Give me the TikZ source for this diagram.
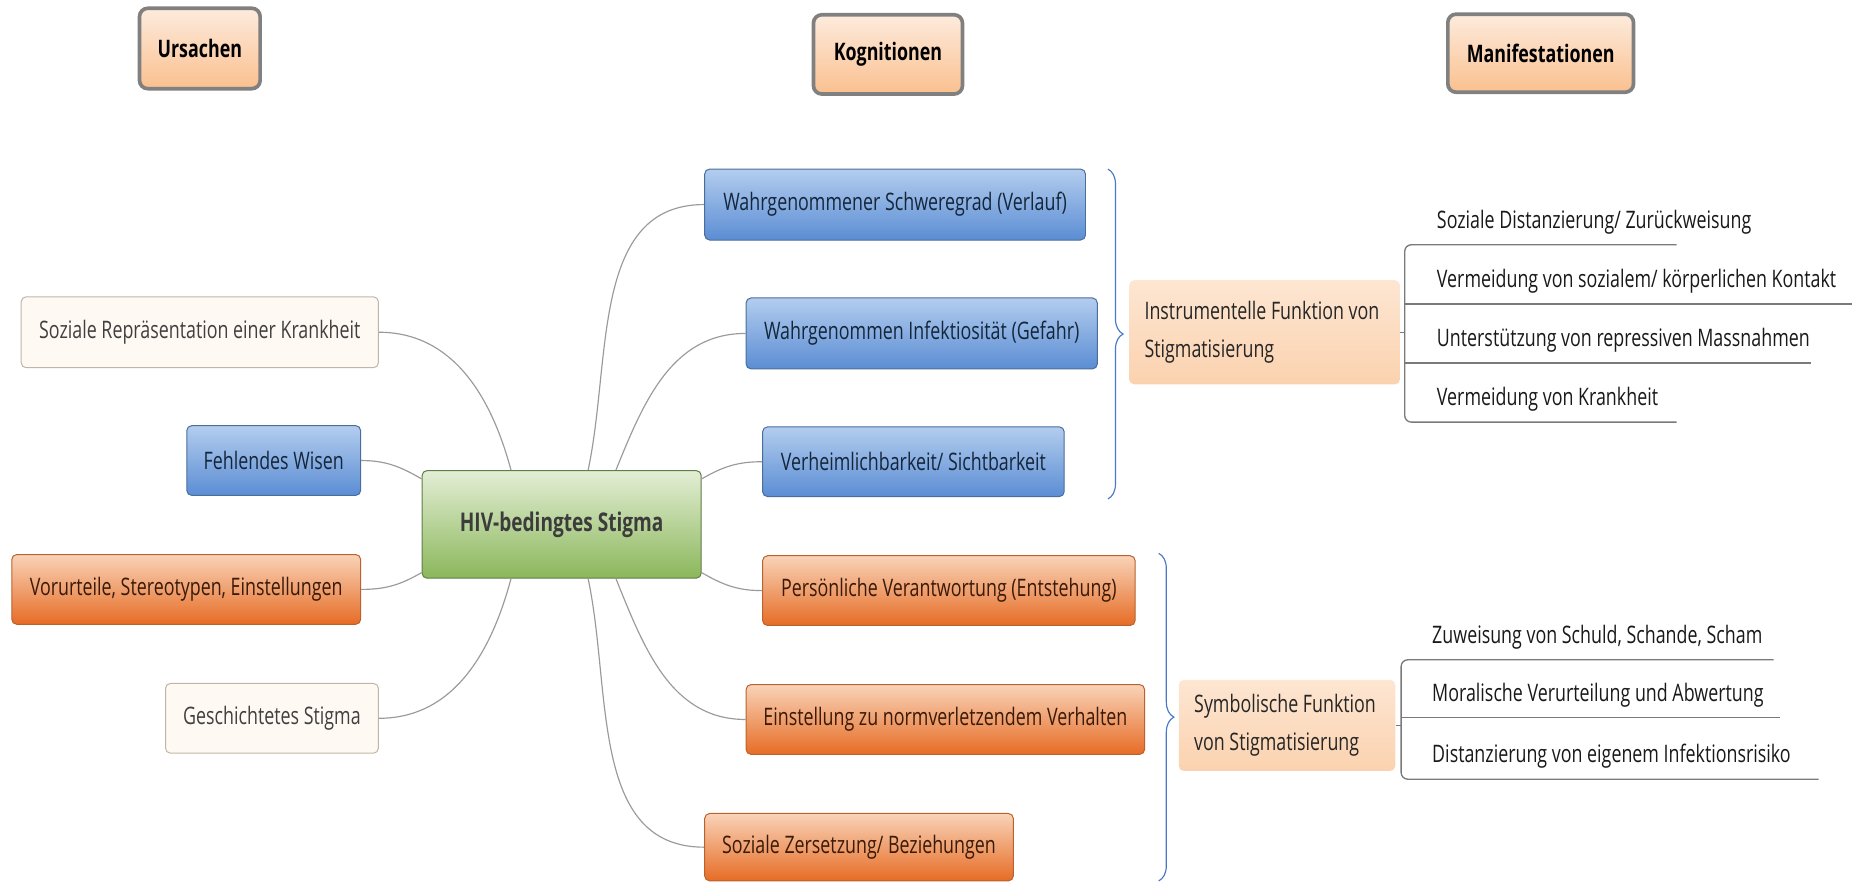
\documentclass[tikz,border=0pt]{standalone}
\usepackage{fontspec}
\setmainfont{Open Sans}[FakeStretch=0.74]
\usetikzlibrary{positioning,decorations.pathreplacing}

\definecolor{headline}{HTML}{808080}
\definecolor{headtop}{HTML}{FDEBDD}
\definecolor{headbot}{HTML}{FAC08F}
\definecolor{bluetop}{HTML}{B3CDEE}
\definecolor{bluebot}{HTML}{5B8DD4}
\definecolor{blueline}{HTML}{4A6E9C}
\definecolor{bluetext}{HTML}{15263B}
\definecolor{orangetop}{HTML}{F9D3B8}
\definecolor{orangebot}{HTML}{E66C25}
\definecolor{orangeline}{HTML}{B9622E}
\definecolor{orangetext}{HTML}{3A1A08}
\definecolor{greentop}{HTML}{E3EED5}
\definecolor{greenbot}{HTML}{8BB75B}
\definecolor{greenline}{HTML}{5F7D45}
\definecolor{greentext}{HTML}{3C3C3C}
\definecolor{creamfill}{HTML}{FFF9F3}
\definecolor{creamline}{HTML}{C2B4A8}
\definecolor{creamtext}{HTML}{404040}
\definecolor{functop}{HTML}{FDE6D2}
\definecolor{funcbot}{HTML}{FBD2AF}
\definecolor{linkgray}{HTML}{9A9A9A}
\definecolor{rulegray}{HTML}{7A7A7A}
\definecolor{braceblue}{HTML}{4A78C8}

\begin{document}
\begin{tikzpicture}[
    x=0.025cm, y=-0.025cm,
    font=\fontsize{14.5}{17}\selectfont,
    box/.style={draw, rounded corners=3pt, align=center, inner sep=0pt, line width=0.6pt},
    head/.style={box, draw=headline, line width=2.2pt, rounded corners=5pt, top color=headtop, bottom color=headbot, font=\fontsize{14.5}{17}\selectfont\bfseries},
    bluebox/.style={box, draw=blueline, top color=bluetop, bottom color=bluebot, text=bluetext},
    orangebox/.style={box, draw=orangeline, top color=orangetop, bottom color=orangebot, text=orangetext},
    creambox/.style={box, draw=creamline, fill=creamfill, text=creamtext},
    core/.style={box, draw=greenline, top color=greentop, bottom color=greenbot, text=greentext, font=\fontsize{15.5}{18}\selectfont\bfseries},
    func/.style={rounded corners=3pt, top color=functop, bottom color=funcbot, align=flush left, inner xsep=0.325cm, inner ysep=0pt, text=black!85, font=\fontsize{14.5}{23}\selectfont},
    item/.style={anchor=south west, inner ysep=0.25cm, text depth=0.25em, text=black!90},
    link/.style={draw=linkgray, line width=0.7pt},
    rule/.style={draw=rulegray, line width=0.8pt, rounded corners=4pt},
    curly/.style={draw=braceblue, line width=0.7pt, decorate, decoration={brace, amplitude=0.32cm}}
]
\useasboundingbox (0,0) rectangle (1568,747);

\node[head, minimum width=2.55cm, minimum height=1.7cm] (ursachen) at (169,41) {Ursachen};
\node[head, minimum width=3.15cm, minimum height=1.675cm] (kogn) at (751,46) {Kognitionen};
\node[head, minimum width=3.925cm, minimum height=1.65cm] (manif) at (1303,45) {Manifestationen};

\node[core, minimum width=5.9cm, minimum height=2.275cm] (stigma) at (475,443.5) {HIV-bedingtes Stigma};

\node[creambox, minimum width=7.55cm, minimum height=1.5cm] (sozrep) at (169,281) {Soziale Repräsentation einer Krankheit};
\node[bluebox, minimum width=3.675cm, minimum height=1.475cm] (wissen) at (231.5,389.5) {Fehlendes Wisen};
\node[orangebox, minimum width=7.375cm, minimum height=1.475cm] (vorurt) at (157.5,498.5) {Vorurteile, Stereotypen, Einstellungen};
\node[creambox, minimum width=4.5cm, minimum height=1.475cm] (geschst) at (230,607.5) {Geschichtetes Stigma};

\node[bluebox, minimum width=8.05cm, minimum height=1.5cm] (schwere) at (757,173) {Wahrgenommener Schweregrad (Verlauf)};
\node[bluebox, minimum width=7.425cm, minimum height=1.5cm] (infekt) at (779.5,282) {Wahrgenommen Infektiosität (Gefahr)};
\node[bluebox, minimum width=6.375cm, minimum height=1.475cm] (verheim) at (772.5,390.5) {Verheimlichbarkeit/ Sichtbarkeit};
\node[orangebox, minimum width=7.875cm, minimum height=1.475cm] (verantw) at (802.5,499.5) {Persönliche Verantwortung (Entstehung)};
\node[orangebox, minimum width=8.425cm, minimum height=1.475cm] (normverl) at (799.5,608.5) {Einstellung zu normverletzendem Verhalten};
\node[orangebox, minimum width=6.525cm, minimum height=1.425cm] (zersetz) at (726.5,716.5) {Soziale Zersetzung/ Beziehungen};

\node[func, text width=5.075cm, minimum height=2.2cm] (instr) at (1069.5,281) {Instrumentelle Funktion von\\Stigmatisierung};
\node[func, text width=3.925cm, minimum height=1.925cm] (symb) at (1088.5,613.5) {Symbolische Funktion\\von Stigmatisierung};

\node[item, inner xsep=0.675cm] (inst1) at (1188,207) {Soziale Distanzierung/ Zurückweisung};
\node[item, inner xsep=0.675cm] (inst2) at (1188,257) {Vermeidung von sozialem/ körperlichen Kontakt};
\node[item, inner xsep=0.675cm] (inst3) at (1188,307) {Unterstützung von repressiven Massnahmen};
\node[item, inner xsep=0.675cm] (inst4) at (1188,357) {Vermeidung von Krankheit};

\node[item, inner xsep=0.65cm] (symb1) at (1185,558) {Zuweisung von Schuld, Schande, Scham};
\node[item, inner xsep=0.65cm] (symb2) at (1185,607) {Moralische Verurteilung und Abwertung};
\node[item, inner xsep=0.65cm] (symb3) at (1185,659) {Distanzierung von eigenem Infektionsrisiko};

\draw[link] (sozrep.east) to[out=0,in=105] (stigma.133);
\draw[link] (wissen.east) to[out=0,in=150] (stigma.162);
\draw[link] (vorurt.east) to[out=0,in=210] (stigma.199);
\draw[link] (geschst.east) to[out=0,in=255] (stigma.227);

\draw[link] (stigma.64) to[out=78,in=180] (schwere.west);
\draw[link] (stigma.45) to[out=68,in=180] (infekt.west);
\draw[link] (stigma.18) to[out=30,in=180] (verheim.west);
\draw[link] (stigma.-19) to[out=-30,in=180] (verantw.west);
\draw[link] (stigma.-45) to[out=-68,in=180] (normverl.west);
\draw[link] (stigma.-64) to[out=-78,in=180] (zersetz.west);

\draw[curly] (937,143) -- (937,422);
\draw[curly] (980,468) -- (980,745);

\draw[rule] (instr.east) -- (instr.east -| inst1.south west);
\draw[rule] ([xshift=5.75cm]inst1.south west) -- (inst1.south west) -- (inst4.south west) -- ++(230,0);
\draw[rule] (inst2.south west) -- ++(378,0);
\draw[rule] (inst3.south west) -- ++(344,0);

\draw[rule] (symb.east) -- (symb.east -| symb2.south west);
\draw[rule] ([xshift=7.875cm]symb1.south west) -- (symb1.south west) -- (symb3.south west) -- ++(353,0);
\draw[rule] (symb2.south west) -- ++(320,0);
\end{tikzpicture}
\end{document}
